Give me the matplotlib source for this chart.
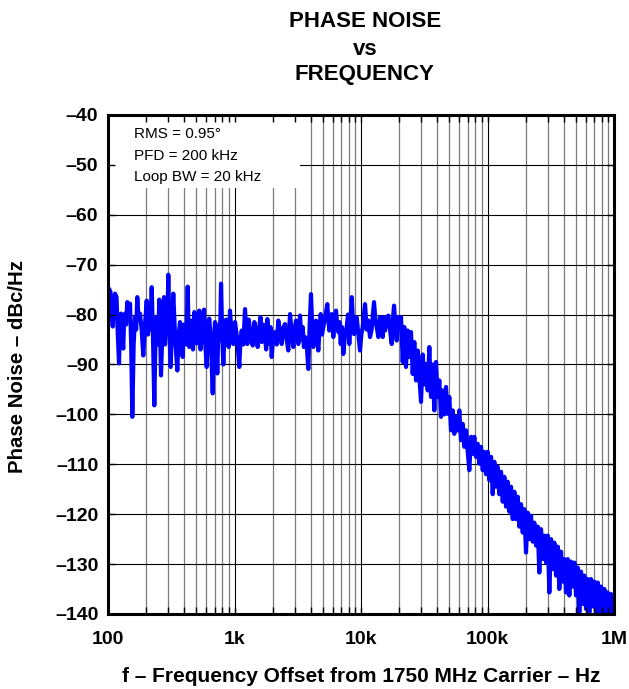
import numpy as np
import matplotlib
matplotlib.use('Agg')
import matplotlib.pyplot as plt
from matplotlib.patches import Rectangle
from matplotlib.ticker import LogLocator, NullFormatter

plt.rcParams['font.family'] = 'Liberation Sans'

# phase noise trace (Hz, dBc/Hz)
freq_low = [100, 101.8, 104.7, 107, 109, 111.5, 113.6, 116.8, 119.5, 122.2,
            124.5, 126.7, 129.5, 132.1, 134, 136.3, 139, 142.1, 145.5, 149.3,
            152.5, 155.7, 159.5, 163.5, 167, 170.4, 174.5, 179, 184.5, 190.1,
            196, 202.3, 207, 212.1, 217, 221.6, 227, 232.3, 237.5, 242.7,
            248.5, 254.4, 258.5, 262.4, 270, 277.2, 282, 287.4, 293.5, 299.7,
            306, 313.1, 320.5, 328.2, 340, 353.1, 362, 370.9, 380, 389.5,
            397.5, 406.2, 416, 426.6, 433, 439.3, 449, 458.9, 470, 481.2,
            492, 502.8, 515, 526.9, 538.5, 550.5, 562, 574.1, 588, 602.9,
            617, 632.1, 652, 672.6, 687, 701.3, 716, 731.4, 743, 754.5,
            768, 782.4, 799, 815.8, 836, 856.8, 878, 900]
noise_low = [-76, -74.8, -75.5, -80, -82.4, -78, -75.8, -76.5, -84, -89.8,
             -82, -79.8, -85, -86.8, -81, -79.8, -82, -77.5, -80, -77.8,
             -86, -100.5, -86, -80.5, -83, -76.5, -81, -79.8, -83, -88.2,
             -82, -77.2, -84, -77.8, -83, -74.5, -85, -98.2, -84, -80.5,
             -86, -77, -84, -92.2, -82, -76.5, -86, -80, -84, -72,
             -84, -90.5, -82, -75.8, -85, -91.2, -84, -81.5, -86, -88.5,
             -82, -83, -86, -74.4, -83, -86.5, -82, -81.2, -87, -79.5,
             -84, -85.8, -81, -79.2, -87, -84.5, -81, -79, -86, -90.5,
             -82, -80.8, -86, -95.8, -85, -81.5, -85, -91.8, -84, -82,
             -85, -73.8, -84, -90, -83, -81, -85, -86.5]

freq_mid = [921, 949, 978, 1009, 1041, 1066, 1091, 1115, 1140, 1175,
            1211, 1237, 1263, 1294, 1326, 1359, 1393, 1435, 1479, 1524,
            1571, 1605, 1641, 1690, 1742, 1779, 1817, 1850, 1884, 1925,
            1968, 2028, 2091, 2155, 2220, 2290, 2362, 2433, 2507, 2584,
            2663, 2705, 2747, 2830, 2917, 2990, 3064, 3130, 3195, 3245,
            3296, 3378, 3461, 3535, 3609, 3720, 3832, 3928, 4024, 4110,
            4197, 4303, 4409, 4503, 4597, 4700, 4802, 4918, 5035, 5222,
            5415, 5515, 5616, 5741, 5867, 5953, 6040, 6192, 6345, 6480,
            6616, 6762, 6910, 7076, 7246, 7476, 7709, 7893, 8082, 8262,
            8444, 8625, 8806, 9025, 9248, 9530, 9820, 10060, 10310, 10530,
            10760, 11090, 11420, 11780, 12150, 12410, 12670, 12990, 13310, 13710,
            14130, 14480, 14840, 15160, 15480, 15950, 16440, 16960, 17490, 17860,
            18240, 18690, 19150, 19620, 20090]
noise_mid = [-79.2, -84, -85.9, -81.5, -84.2, -87, -90.5, -85, -83.2, -86,
             -78.9, -83, -85.9, -81, -82.9, -85, -86.2, -81.5, -83.2, -86.5,
             -82.5, -80.5, -85.5, -82, -84.2, -87, -80.9, -83.5, -85.9, -82.5,
             -88.5, -84, -83.5, -86, -81.2, -84, -85.9, -82.5, -81.9, -85,
             -87.2, -83, -79.9, -83.5, -86.5, -83, -81.2, -84, -85.9, -83,
             -80.2, -85, -82.5, -86.5, -84.5, -86, -90.9, -82, -75.9, -82,
             -86.5, -83, -81.2, -84.5, -87.2, -83, -79.9, -84, -82.5, -80.5,
             -77.9, -81, -83.2, -81, -79.9, -82, -84.5, -81, -79.2, -82,
             -83.5, -81.5, -85.9, -82.5, -87.9, -84, -82.5, -80, -85.9, -81,
             -76.5, -81, -83.9, -81, -80.5, -84, -87.2, -84, -82.5, -80,
             -77.9, -83, -81.2, -84.5, -82.9, -80, -77.5, -81, -82.5, -84.5,
             -80.5, -82, -84.5, -80.5, -83.2, -81.5, -80.2, -83, -85.9, -81,
             -78.2, -82, -85.2, -80.5, -82.2]

freq_high = [20710, 21360, 21990, 22680, 23390, 24080, 24840, 25620, 26380, 27210,
             28060, 28900, 29810, 30740, 31650, 32640, 33680, 34670, 35760, 36880,
             37970, 39160, 40390, 41590, 42900, 44240, 45550, 46980, 48460, 49890,
             51460, 53070, 54640, 56360, 58130, 59850, 61720, 63680, 65560, 67610,
             69740, 71800, 74060, 76380, 78640, 81110, 83650, 86140, 88840, 91650,
             94340, 97300, 100400, 103300, 106600, 109900, 113200, 116700, 120400, 124000,
             127900, 131900, 135800, 140000, 144400, 148700, 153400, 158200, 162900, 168000,
             173300, 178400, 184000, 189800, 195400, 201500, 207900, 214000, 220800, 227700,
             234400, 241800, 249400, 256700, 264800, 273200, 281200, 290100, 299200, 308000,
             317700, 327700, 337400, 348000, 358900, 369500, 381100, 393100, 404700, 417400,
             430500, 443200, 457200, 471500, 485500, 500700, 516400, 531700, 548400, 565600,
             582300, 600600, 619500, 637800, 657900, 678500, 698600, 720600, 743100, 765100,
             789100, 814000, 838000, 864500, 891700, 918000, 946900, 976600, 1000000]
noise_high = [-80.5, -89.5, -82.5, -90.5, -83.2, -88.5, -83.5, -91.9, -85.5, -93.2,
              -87.2, -92.5, -97.5, -88, -94, -89.9, -95.2, -86.5, -96.5, -90,
              -99.2, -89.5, -96.5, -93.2, -100.5, -95.2, -100, -94.5, -99.9, -96.5,
              -103.2, -99.2, -103.9, -100.5, -103.2, -99.2, -105.2, -101.9, -106.5, -103.2,
              -107.5, -111.2, -104.5, -107.9, -104.5, -108.5, -105.9, -109.9, -106.5, -111.2,
              -107.5, -112, -107.5, -113.2, -108.5, -116, -109.5, -114.5, -110.5, -116,
              -111.5, -117.5, -112.5, -118.5, -113.5, -119.5, -114.5, -121, -115.5, -121,
              -116.5, -122.5, -118, -123.7, -119, -127.7, -119.7, -125, -120.3, -125.5,
              -121.7, -126.3, -122.5, -131.7, -123, -129, -124.3, -129.7, -124.3, -135.7,
              -125, -131, -125.7, -132.3, -126.5, -135, -127.5, -133.5, -129, -135.7,
              -129, -136.3, -129.5, -134.5, -129.7, -136.3, -130.7, -139.7, -131.5, -138,
              -132.3, -139, -133, -139.7, -133, -138.5, -133.5, -139.7, -133.7, -140,
              -134.5, -139.5, -135, -140, -135.7, -140, -136, -140, -136.3]

ytick_values = [-140, -130, -120, -110, -100, -90, -80, -70, -60, -50, -40]
ytick_labels = ['\u2013140', '\u2013130', '\u2013120', '\u2013110', '\u2013100', '\u201390',
                '\u201380', '\u201370', '\u201360', '\u201350', '\u201340']
xtick_values = [1e2, 1e3, 1e4, 1e5, 1e6]
xtick_labels = ['100', '1k', '10k', '100k', '1M']
title_lines = ['PHASE NOISE', 'vs', 'FREQUENCY']
note_lines = ['RMS = 0.95\u00b0', 'PFD = 200 kHz', 'Loop BW = 20 kHz']

freq = np.concatenate([freq_low, freq_mid, freq_high])
noise = np.concatenate([noise_low, noise_mid, noise_high])

fig = plt.figure(figsize=(6.29, 6.89), dpi=100)
ax = fig.add_axes([0.1717, 0.1089, 0.8045, 0.7242])

ax.semilogx(freq, noise, color='#0000ff', lw=3.0, zorder=3)
ax.set_xlim(100, 1e6)
ax.set_ylim(-140, -40)
ax.set_axisbelow(True)

ax.set_xticks(xtick_values)
ax.set_xticklabels(xtick_labels)
ax.xaxis.set_minor_locator(LogLocator(base=10, subs=np.arange(2, 10)))
ax.xaxis.set_minor_formatter(NullFormatter())
ax.set_yticks(ytick_values)
ax.set_yticklabels(ytick_labels)

ax.grid(which='major', color='black', lw=0.8)
ax.grid(which='minor', axis='x', color='#7a7a7a', lw=0.9)
ax.tick_params(which='both', length=0)
ax.tick_params(axis='x', pad=12, labelsize=14)
ax.tick_params(axis='y', pad=7, labelsize=14)
for lab in ax.get_xticklabels() + ax.get_yticklabels():
    lab.set_fontweight('bold')
for s in ax.spines.values():
    s.set_linewidth(2.2)
    s.set_zorder(5)

# white panel behind the settings text hides the grid there
ax.add_patch(Rectangle((0, 0.854), 0.379, 0.146, transform=ax.transAxes,
                       facecolor='white', edgecolor='none', zorder=1))
for i, line in enumerate(note_lines):
    ax.text(0.0514, 0.9613 - i * 0.0431, line, transform=ax.transAxes,
            fontsize=11, va='center', ha='left', zorder=4)

# tick marks on top of everything
ax2 = fig.add_axes(ax.get_position(), sharex=ax, sharey=ax, frameon=False)
ax2.tick_params(which='both', direction='in', length=5, width=1, top=True, right=True,
                labelbottom=False, labelleft=False)
ax2.grid(False)

ax.set_xlabel('f \u2013 Frequency Offset from 1750 MHz Carrier \u2013 Hz',
              fontsize=15, fontweight='bold')
ax.xaxis.set_label_coords(0.5, -0.1363)
ax.xaxis.label.set_va('baseline')
ax.set_ylabel('Phase Noise \u2013 dBc/Hz', fontsize=14.7, fontweight='bold')
ax.yaxis.set_label_coords(-0.178, 0.496)
ax.yaxis.label.set_va('center')

for txt, y in zip(title_lines, [0.9604, 0.9202, 0.8839]):
    fig.text(0.580, y, txt, ha='center', va='baseline', fontsize=16, fontweight='bold')

plt.savefig('out.png', dpi=100)
